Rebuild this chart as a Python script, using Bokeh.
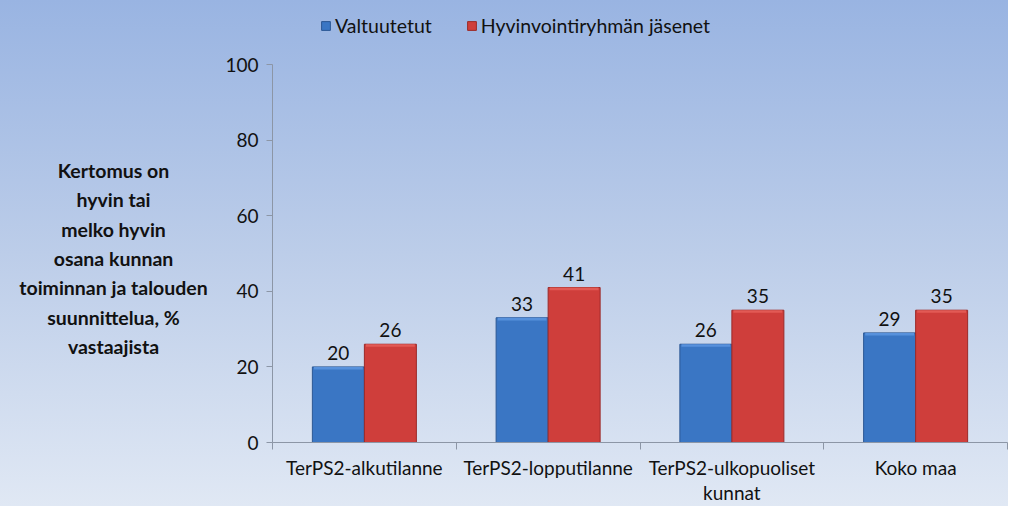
from bokeh.plotting import figure
from bokeh.models import FixedTicker, Legend, LegendItem, ColumnDataSource, Range1d, Label
from bokeh.core.properties import value
from bokeh.embed import file_html
from bokeh.resources import INLINE

categories = ["TerPS2-alkutilanne", "TerPS2-lopputilanne", "TerPS2-ulkopuoliset\nkunnat", "Koko maa"]
valtuutetut = [20, 33, 26, 29]
hyvinvointi = [26, 41, 35, 35]
series_names = ["Valtuutetut", "Hyvinvointiryhmän jäsenet"]
y_ticks = [0, 20, 40, 60, 80, 100]
y_title = "Kertomus on\nhyvin tai\nmelko hyvin\nosana kunnan\ntoiminnan ja talouden\nsuunnittelua, %\nvastaajista"

FONT = "Lato"
W, H = 1008, 506
AX_X, AX_B, AX_T = 272, 442, 64          # pixel positions of axis x, y=0, y=100
n = len(categories)
ppx = (1007 - AX_X) / n
ppy = (AX_B - AX_T) / 100
bw = 0.283
centers = [i + 0.5 for i in range(n)]

p = figure(width=W, height=H, output_backend="svg", toolbar_location=None,
           x_range=Range1d(-AX_X / ppx, n + 1 / ppx), y_range=Range1d(-(H - AX_B) / ppy, AX_B / ppy),
           min_border_left=0, min_border_right=0, min_border_top=0, min_border_bottom=0)
p.background_fill_color = None
p.border_fill_color = None
p.outline_line_color = None
p.styles = {"background": "linear-gradient(to bottom, #99b4e2 0%, #bccde9 50%, #e0e8f4 100%)"}
p.grid.visible = False

bx = [c - bw / 2 for c in centers]
rx = [c + bw / 2 for c in centers]
src_b = ColumnDataSource(dict(x=bx, top=valtuutetut, hl=[v - 0.7 for v in valtuutetut], t=[str(v) for v in valtuutetut]))
src_r = ColumnDataSource(dict(x=rx, top=hyvinvointi, hl=[v - 0.7 for v in hyvinvointi], t=[str(v) for v in hyvinvointi]))

rb = p.vbar(x="x", top="top", width=bw, bottom=0, source=src_b,
            fill_color="#3a76c4", line_color="#2b5794", line_width=1)
rr = p.vbar(x="x", top="top", width=bw, bottom=0, source=src_r,
            fill_color="#cf3e3b", line_color="#9b2a28", line_width=1)
# soft bevel along the top of each bar
p.vbar(x="x", top="top", bottom="hl", width=bw * 0.94, source=src_b, fill_color="#5791dc", line_color=None)
p.vbar(x="x", top="top", bottom="hl", width=bw * 0.94, source=src_r, fill_color="#e25a55", line_color=None)

for src in (src_b, src_r):
    p.text(x="x", y="top", text="t", source=src, text_align="center", text_baseline="bottom",
           y_offset=-7, text_font=value(FONT), text_font_size="19px", text_color="#111111")

# x axis at y = 0 inside the frame
p.xaxis.fixed_location = 0
p.xaxis.bounds = (0, n)
p.xaxis.ticker = FixedTicker(ticks=centers, minor_ticks=list(range(n + 1)))
p.xaxis.major_label_overrides = {c: lab for c, lab in zip(centers, categories)}
p.xaxis.major_tick_line_color = None
p.xaxis.minor_tick_out = 7
p.xaxis.minor_tick_in = 0
p.xaxis.minor_tick_line_color = "#8c96a6"
p.xaxis.axis_line_color = "#8c96a6"
p.xaxis.major_label_standoff = 6
p.xaxis.major_label_text_font = FONT
p.xaxis.major_label_text_font_size = "19px"
p.xaxis.major_label_text_color = "#111111"
p.xaxis.major_label_text_line_height = 1.1

# y axis at x = 0 inside the frame
p.yaxis.fixed_location = 0
p.yaxis.bounds = (0, 100)
p.yaxis.ticker = FixedTicker(ticks=y_ticks, minor_ticks=[])
p.yaxis.major_tick_out = 6
p.yaxis.major_tick_in = 0
p.yaxis.major_tick_line_color = "#8c96a6"
p.yaxis.axis_line_color = "#8c96a6"
p.yaxis.major_label_standoff = 8
p.yaxis.major_label_text_font = FONT
p.yaxis.major_label_text_font_size = "19px"
p.yaxis.major_label_text_color = "#111111"

lab = Label(x=(113 - AX_X) / ppx, y=(AX_B - 258) / ppy, text=y_title,
            text_align="center", text_baseline="middle",
            text_font=FONT, text_font_size="19.5px", text_font_style="bold",
            text_color="#111111", text_line_height=1.28)
p.add_layout(lab)

legend = Legend(items=[LegendItem(label=series_names[0], renderers=[rb]),
                       LegendItem(label=series_names[1], renderers=[rr])],
                orientation="horizontal", location=(320, H - 37),
                background_fill_alpha=0, border_line_color=None,
                label_text_font=FONT, label_text_font_size="19.5px", label_text_color="#111111",
                glyph_width=11, glyph_height=11, label_standoff=4, spacing=34,
                padding=0, margin=0, label_height=20)
p.add_layout(legend)

open("out.html", "w").write(file_html(p, INLINE))
